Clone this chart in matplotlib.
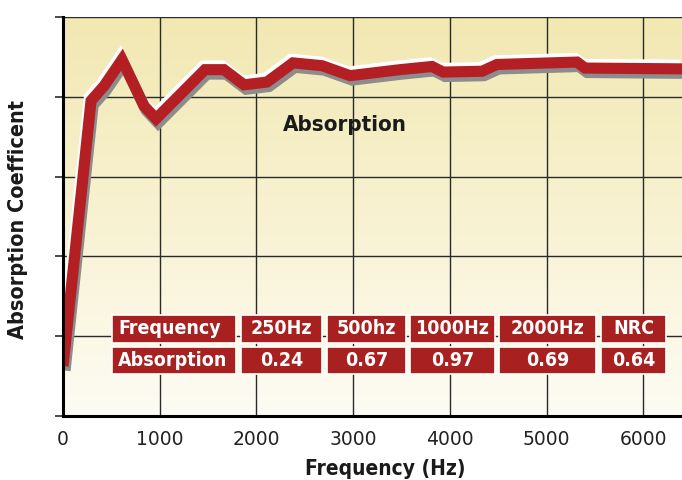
import numpy as np
import matplotlib
matplotlib.use("Agg")
import matplotlib.pyplot as plt
import matplotlib.patheffects as pe
from matplotlib.colors import LinearSegmentedColormap
from matplotlib.patches import Rectangle
from matplotlib import font_manager

# ---- data ----
freq_hz = [0, 290, 424, 610, 838, 962, 1468, 1665, 1872, 2110, 2378, 2678,
           2968, 3485, 3816, 3930, 4333, 4488, 5315, 5398, 6401]
absorption = [0.125, 0.79, 0.827, 0.893, 0.777, 0.745, 0.868, 0.868, 0.83, 0.837,
              0.885, 0.878, 0.853, 0.868, 0.876, 0.862, 0.864, 0.881, 0.887, 0.872, 0.87]
x_ticks = [0, 1000, 2000, 3000, 4000, 5000, 6000]
y_grid = [0.2, 0.4, 0.6, 0.8, 1.0]
table_header = ["Frequency", "250Hz", "500hz", "1000Hz", "2000Hz", "NRC"]
table_values = ["Absorption", "0.24", "0.67", "0.97", "0.69", "0.64"]

has_cond = any(f.name == "DejaVu Sans" and f.stretch == "condensed" and f.weight in (700, "bold")
               for f in font_manager.fontManager.ttflist)
BOLD = dict(family="DejaVu Sans", fontweight="bold",
            fontstretch="condensed" if has_cond else "normal")
k = 1.0 if has_cond else 0.9

W, H = 682, 480
fig = plt.figure(figsize=(W / 100, H / 100), dpi=100)
fig.patch.set_facecolor("white")

ax = fig.add_axes([63 / W, 1 - 416 / H, 1 - 63 / W, (416 - 17) / H])
ax.set_xlim(0, 6401)
ax.set_ylim(0, 1.0)

# background gradient
cmap = LinearSegmentedColormap.from_list("bg", ["#FDFCF4", "#F8F2D2", "#F2E8B2"])
grad = np.linspace(0, 1, 256).reshape(-1, 1)
ax.imshow(grad, extent=[0, 6401, 0, 1.0], origin="lower", aspect="auto",
          cmap=cmap, zorder=0)

# grid
for xv in x_ticks[1:]:
    ax.axvline(xv, color="#2a2a2a", lw=1.0, zorder=1)
for yv in y_grid:
    ax.axhline(yv, color="#2a2a2a", lw=1.0, zorder=1)

# curve with shadow and highlight
ax.plot(freq_hz, absorption, color="#B41F24", lw=8.0, solid_joinstyle="miter",
        solid_capstyle="butt", zorder=5,
        path_effects=[
            pe.SimpleLineShadow(offset=(-1.2, 2.6), shadow_color="white", alpha=1.0, rho=1.0),
            pe.SimpleLineShadow(offset=(1.5, -3.2), shadow_color="#8c8c8c", alpha=1.0, rho=1.0),
            pe.Normal()])

ax.text(2270, 0.73, "Absorption", fontsize=16 * k, color="#1a1a1a",
        zorder=6, va="center", **BOLD)

# spines / ticks
for s in ["top", "right"]:
    ax.spines[s].set_visible(False)
ax.spines["left"].set_linewidth(2.2)
ax.spines["bottom"].set_linewidth(2.2)
ax.spines["left"].set_zorder(7)
ax.spines["bottom"].set_zorder(7)
ax.set_yticks([0] + y_grid)
ax.set_yticklabels([])
ax.tick_params(axis="y", direction="out", length=6, width=1.2, color="#2a2a2a")
ax.set_xticks(x_ticks)
ax.set_xticklabels([str(v) for v in x_ticks], fontsize=13.5, color="#222222")
ax.tick_params(axis="x", length=0, pad=10)
ax.set_xticks([3000], minor=True)
ax.tick_params(axis="x", which="minor", length=6, width=1.0, direction="out")

fig.text(18 / W, 1 - 220 / H, "Absorption Coefficent", rotation=90, fontsize=15.5 * k,
         ha="center", va="center", color="#1a1a1a", **BOLD)
fig.text(385 / W, 1 - 469 / H, "Frequency (Hz)", fontsize=15 * k,
         ha="center", va="center", color="#1a1a1a", **BOLD)

# table of values
cols = [(112, 236), (241, 322), (327, 406), (410, 495), (499, 596), (601, 666)]
rows = [(315, 343), (347, 374)]
red = "#A8201F"
for r, texts in zip(rows, [table_header, table_values]):
    y0, y1 = r
    for i, ((x0, x1), t) in enumerate(zip(cols, texts)):
        fig.patches.append(Rectangle((x0 / W, 1 - y1 / H), (x1 - x0) / W, (y1 - y0) / H,
                                     transform=fig.transFigure, facecolor=red,
                                     edgecolor="white", lw=1.2, zorder=8))
        if i == 0:
            fig.text((x0 + 6) / W, 1 - (y0 + y1) / 2 / H, t, color="white", fontsize=14 * k,
                     ha="left", va="center", zorder=9, **BOLD)
        else:
            fig.text((x0 + x1) / 2 / W, 1 - (y0 + y1) / 2 / H, t, color="white",
                     fontsize=14 * k, ha="center", va="center", zorder=9, **BOLD)

fig.savefig("out.png", dpi=100)
